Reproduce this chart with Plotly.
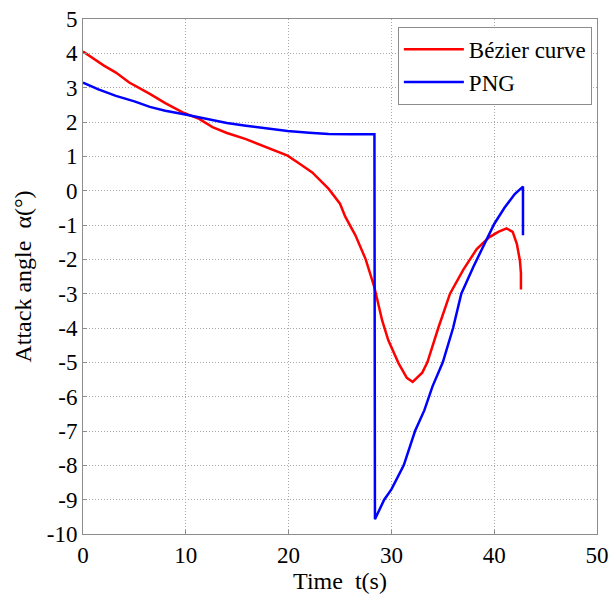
import plotly.graph_objects as go

# Bézier curve
t_bez = [0, 1, 2, 3.2, 4.5, 6.5, 8, 9.7, 11.3, 12.6, 14, 15.85, 17.5, 19, 19.9, 21, 22.3,
         23.9, 25, 25.5, 26.5, 27.5, 28.35, 29.1, 29.7, 30.7, 31.5, 32.07, 33, 33.5, 34.56,
         35.7, 37, 38.3, 39.5, 40.4, 41.2, 41.8, 42.2, 42.5, 42.6, 42.6]
a_bez = [4.05, 3.85, 3.65, 3.44, 3.15, 2.82, 2.55, 2.28, 2.09, 1.85, 1.68, 1.5, 1.3, 1.12, 1.02,
         0.8, 0.53, 0.05, -0.38, -0.75, -1.3, -2.0, -2.82, -3.78, -4.36, -5.03, -5.45, -5.57,
         -5.3, -5.0, -4.0, -3.0, -2.3, -1.7, -1.36, -1.2, -1.1, -1.2, -1.55, -2.03, -2.4, -2.88]

# PNG
t_png = [0, 1.5, 3.2, 5, 6.5, 8, 9.7, 11.3, 12.6, 14, 15.85, 18, 19.9, 22, 23.9, 26, 28.35,
         28.4, 29.3, 30, 31.2, 32.3, 33.2, 34, 35, 36, 36.8, 38, 39, 40, 41, 42, 42.8, 42.8]
a_png = [3.15, 2.95, 2.76, 2.6, 2.44, 2.33, 2.23, 2.13, 2.05, 1.97, 1.89, 1.8, 1.74, 1.69, 1.65,
         1.64, 1.64, -9.57, -9.0, -8.7, -8.0, -7.0, -6.4, -5.7, -5.0, -4.0, -3.0, -2.2, -1.6,
         -0.97, -0.5, -0.1, 0.12, -1.3]

x_ticks = [0, 10, 20, 30, 40, 50]
y_ticks = list(range(-10, 6))

font_family = "'Liberation Serif', 'Times New Roman', Times, serif"

fig = go.Figure()
fig.add_trace(go.Scatter(x=t_bez, y=a_bez, mode="lines", name="Bézier curve",
                         line=dict(color="#ff0000", width=2.5)))
fig.add_trace(go.Scatter(x=t_png, y=a_png, mode="lines", name="PNG",
                         line=dict(color="#0000ff", width=2.5)))

axis_common = dict(showgrid=True, gridcolor="#a8a8a8", griddash="1px,2px", gridwidth=1,
                   showline=True, linecolor="#8c8c8c", linewidth=1, mirror=True,
                   ticks="inside", ticklen=4, tickcolor="#8c8c8c", automargin=False,
                   ticklabeloverflow="allow",
                   zeroline=False, tickfont=dict(family=font_family, size=23, color="black"))

fig.update_layout(
    width=613, height=596,
    margin=dict(l=83, r=16, t=19, b=62),
    paper_bgcolor="white", plot_bgcolor="white",
    font=dict(family=font_family, color="black"),
    showlegend=True,
    legend=dict(x=0.99, y=0.985, xanchor="right", yanchor="top",
                bgcolor="white", bordercolor="#8c8c8c", borderwidth=1,
                font=dict(family=font_family, size=23, color="black"),
                itemwidth=60, tracegroupgap=0),
)
fig.update_xaxes(range=[0, 50], tickvals=x_ticks, ticktext=[str(v) for v in x_ticks],
                 title=dict(text="Time  t(s)", font=dict(family=font_family, size=24), standoff=2),
                 **axis_common)
fig.update_yaxes(range=[-10, 5], tickvals=y_ticks, ticktext=[str(v) for v in y_ticks],
                 title=dict(text="Attack angle  α(°)", font=dict(family=font_family, size=24), standoff=8),
                 **axis_common)

# remove the default page margin so the 613x596 figure fills the window exactly
fig.write_html("out.html", config={"displayModeBar": False},
               post_script="document.body.style.margin='0';document.body.style.overflow='hidden';")
